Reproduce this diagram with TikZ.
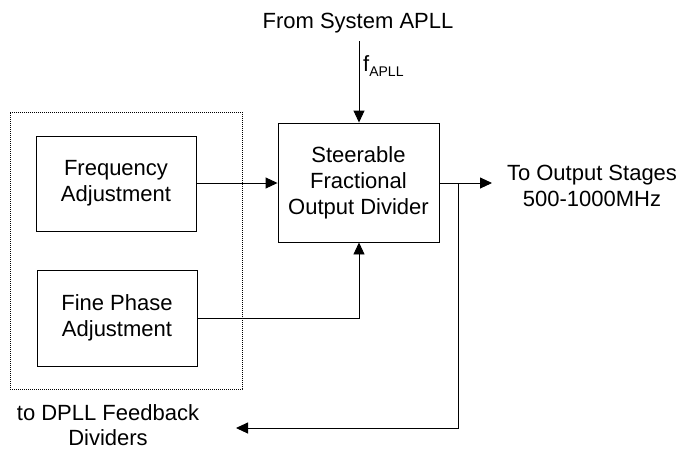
\documentclass[tikz,border=0pt]{standalone}
\usepackage{fontspec}
\setmainfont{Liberation Sans}
\usetikzlibrary{arrows.meta}
\begin{document}
\begin{tikzpicture}[x=1pt,y=-1pt,
  lbl/.style={font=\fontsize{22}{26}\selectfont, align=center, inner sep=0pt},
  blk/.style={draw, line width=0.9pt, lbl},
  conn/.style={line width=0.9pt},
  arr/.style={conn, -{Triangle[length=12pt,width=11pt]}}]
\useasboundingbox[fill=white] (0,0) rectangle (683,451);
\node[draw, line width=0.9pt, dash pattern=on 1.2pt off 0.8pt, minimum width=232pt, minimum height=277pt, inner sep=0pt] (grp) at (126,250.5) {};
\node[blk, minimum width=160pt, minimum height=95pt] (freq) at (116,183.5) {Frequency\\Adjustment};
\node[blk, minimum width=160pt, minimum height=96pt] (fine) at (117,318) {Fine Phase\\Adjustment};
\node[blk, minimum width=161pt, minimum height=119pt] (steer) at (358.5,182.5) {Steerable\\Fractional\\Output Divider};
\node[lbl] (apll) at (358,23) {From System APLL};
\node[inner sep=0pt, anchor=west] (fapll) at (363,66) {\fontsize{22}{26}\selectfont f\raisebox{-5pt}{\fontsize{14}{14}\selectfont APLL}};
\node[lbl] (outtxt) at (592,186) {To Output Stages\\500-1000MHz};
\node[lbl, font=\fontsize{22}{25}\selectfont, anchor=north] (fbtxt) at (108,404) {to DPLL Feedback\\Dividers};
\coordinate (atop) at (359,41);
\coordinate (j) at (458,183);
\coordinate (outtip) at (492,183);
\coordinate (fbtip) at (236,428);
\draw[arr] (atop) -- (atop |- steer.north);
\draw[arr] (freq.east |- 0,183) -- (steer.west |- 0,183);
\draw[arr] (steer.east |- j) -- (outtip);
\draw[arr] (j) |- (fbtip);
\draw[arr] (fine.east) -| (atop |- steer.south);
\end{tikzpicture}
\end{document}
